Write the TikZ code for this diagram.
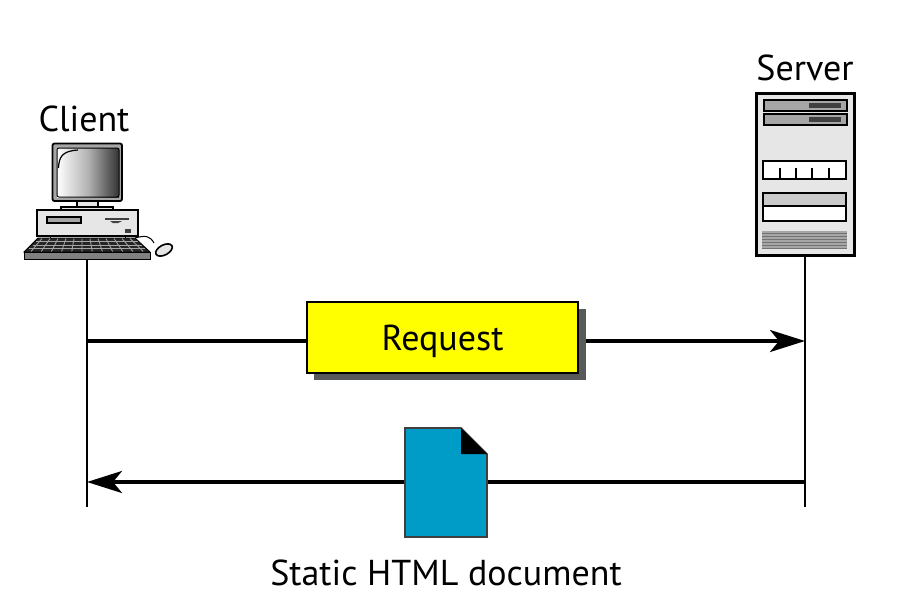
\documentclass[tikz,border=0pt]{standalone}
\usepackage{fontspec}
\setmainfont{PT Sans}
\usetikzlibrary{arrows.meta,calc}
\definecolor{docblue}{HTML}{009CC8}
\definecolor{reqyellow}{HTML}{FFFF00}
\definecolor{shadowgray}{HTML}{58595B}
\definecolor{casegray}{HTML}{E6E6E6}
\definecolor{midgray}{HTML}{A6A6A6}
\definecolor{darkgray2}{HTML}{404040}
\tikzset{
  lbl/.style={inner sep=0pt,font=\fontsize{36}{42}\selectfont,text=black},
  lifeline/.style={line width=2.8pt,black},
  msg/.style={line width=3.4pt,black,-{Stealth[length=35pt,width=22pt,inset=9pt]}},
  plainmsg/.style={line width=3.4pt,black},
  part/.style={draw=black,line width=1.2pt},
  thick part/.style={draw=black,line width=2.4pt},
}
\begin{document}
\begin{tikzpicture}[x=1pt,y=-1pt]
\useasboundingbox (0,0) rectangle (912,602);
% labels
\node[lbl] (clientlabel) at (84,119) {Client};
\node[lbl] (serverlabel) at (805,68) {Server};
% anchors of lifelines
\coordinate (clientTop) at (87,258);
\coordinate (clientBot) at (87,507);
\coordinate (serverTop) at (805,255);
\coordinate (serverBot) at (805,507);
\coordinate (clientReq) at (87,341);
\coordinate (serverReq) at (805,341);
\coordinate (clientDoc) at (87,482);
\coordinate (serverDoc) at (805,482);
\draw[lifeline] (clientTop) -- (clientBot);
\draw[lifeline] (serverTop) -- (serverBot);
% request box
\fill[shadowgray] (314,309) rectangle (586,380);
\node[draw=black,line width=1.8pt,fill=reqyellow,minimum width=271pt,minimum height=71pt,inner sep=0pt,outer sep=0pt,text depth=0pt,font=\fontsize{36}{42}\selectfont] (request) at (442.5,337.5) {Request};
\draw[plainmsg] (clientReq) -- (request.west |- clientReq);
\draw[msg] (586,341) coordinate (reqOut) -- (serverReq);
% document
\coordinate (docW) at (405,482);
\coordinate (docE) at (487,482);
\draw[msg] (docW) -- (clientDoc);
\draw[plainmsg] (serverDoc) -- (docE);
\draw[draw=darkgray2,line width=1.6pt,fill=docblue] (405,428) -- (461,428) -- (487,454) -- (487,537) -- (405,537) -- cycle;
\fill[black] (461,428) -- (487,454) -- (461,454) -- cycle;
\node[lbl] (doclabel) at (446,573) {Static HTML document};
% client computer
\draw[part,line width=1.8pt,rounded corners=2pt,fill=midgray] (52.5,143.5) rectangle (122,201);
\shade[left color=white,right color=black!80,middle color=white!70!black] (57,148) rectangle (119,197);
\draw[black,line width=1pt,rounded corners=2pt] (57,148) rectangle (119,197);
\draw[black,line width=1.2pt] (58.5,168) .. controls (59,157) and (62,151) .. (78,150);
\draw[part,fill=casegray] (77,201) rectangle (98,207);
\draw[part,fill=casegray] (61,207) rectangle (113,210);
\draw[part,fill=casegray] (37,210) rectangle (138,236);
\draw[part,fill=midgray] (47,217) rectangle (81,223);
\fill[darkgray2] (105,218) rectangle (129,220);
\fill[darkgray2] (110,221) -- (122,221) -- (118,223) -- (113,223) -- cycle;
\fill[darkgray2] (125,229) rectangle (131,233);
\draw[part,line width=.9pt] (50,236) -- (50,239);
\draw[part,line width=.9pt] (125,236) -- (125,239);
\draw[black,line width=1pt] (135,238) .. controls (146,235) and (150,236) .. (154,243);
\draw[part,line width=1.6pt,fill=casegray,rotate around={28:(164,250)}] (164,250) ellipse (9pt and 5pt);
% keyboard
\draw[part,fill=black!85,line width=.9pt] (38,238) -- (135,238) -- (150,252) -- (24,252) -- cycle;
\foreach \yy/\sh in {241.5/0,245/1,248.5/2}{
  \draw[white!65!black,line width=.8pt] ({36-\sh*3.5},\yy) -- ({138+\sh*3.5},\yy);
}
\foreach \i in {0,...,11}{
  \draw[white!65!black,line width=.8pt] ({42+\i*8},238.5) -- ({31+\i*10.2},251.5);
}
\draw[part,fill=black!50,line width=1pt] (24,252) rectangle (150,259);
% server
\draw[black,line width=3pt,fill=casegray] (756,93) rectangle (854,255);
\foreach \yt in {100,114}{
  \draw[part,line width=2pt,fill=midgray] (764,\yt) rectangle (847,\yt+11);
  \fill[darkgray2] (809,\yt+3) rectangle (841,\yt+8);
}
\draw[thick part,fill=white] (763,161) rectangle (846,179);
\foreach \xt in {780,796,812,829}{\draw[black,line width=2pt] (\xt,168) -- (\xt,179);}
\draw[thick part,line width=2pt,fill=white] (763,193) rectangle (846,221);
\draw[thick part,line width=2pt,fill=midgray!60] (763,193) rectangle (846,206);
\fill[midgray] (762,231) rectangle (847,249);
\foreach \yv in {233,236,239,242,245,248}{\draw[black!55,line width=1pt] (762,\yv) -- (847,\yv);}
\end{tikzpicture}
\end{document}
